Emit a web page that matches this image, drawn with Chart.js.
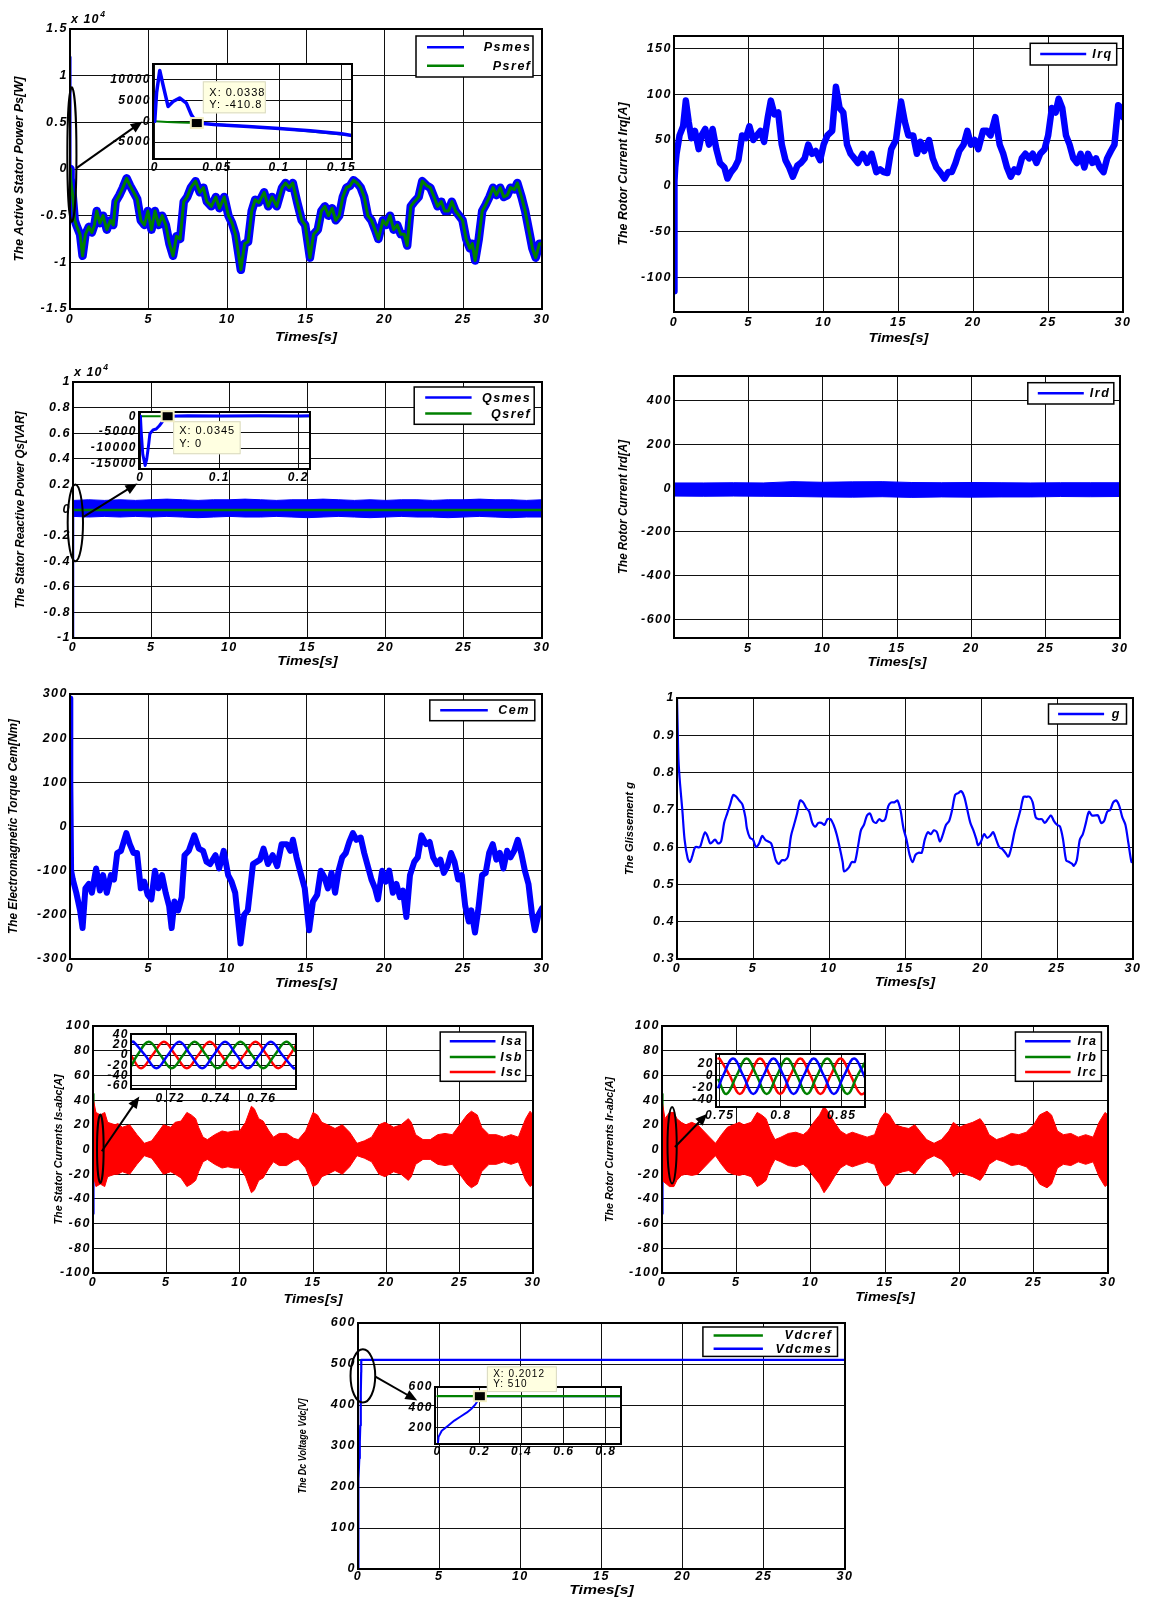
<!DOCTYPE html>
<html lang="en">
<head>
<meta charset="UTF-8">
<title>DFIG simulation results</title>
<script src="https://cdn.jsdelivr.net/npm/chart.js"></script>
<style>
  html, body { margin: 0; padding: 0; background: #fff; }
  #page { position: relative; width: 1157px; height: 1599px; overflow: hidden; background: #fff; }
  canvas { position: absolute; }
</style>
</head>
<body>
<div id="page"></div>
<script>
// ---------- values ----------
const xTicks = [0, 5, 10, 15, 20, 25, 30];

// active stator power (x10^4 W)
const psTicks = [-1.5, -1, -0.5, 0, 0.5, 1, 1.5];
const tPs = [0, 0.02, 0.05, 0.18, 0.3, 0.4, 0.64, 0.8, 0.98, 1.2,
  1.39, 1.55, 1.7, 1.9, 2.1, 2.34, 2.57, 2.75, 2.9, 3.14,
  3.36, 3.6, 3.82, 4.05, 4.27, 4.5, 4.73, 4.95, 5.18, 5.4,
  5.64, 5.86, 6.09, 6.32, 6.55, 6.77, 7.0, 7.23, 7.45, 7.68,
  7.98, 8.25, 8.48, 8.7, 8.98, 9.27, 9.5, 9.8, 10.07, 10.3,
  10.52, 10.86, 11.1, 11.32, 11.55, 11.77, 12.0, 12.34, 12.6, 12.84,
  13.14, 13.48, 13.7, 13.93, 14.16, 14.43, 14.73, 14.95, 15.25, 15.48,
  15.75, 15.98, 16.2, 16.43, 16.66, 16.89, 17.11, 17.34, 17.57, 17.8,
  18.02, 18.25, 18.48, 18.7, 18.93, 19.16, 19.39, 19.6, 19.89, 20.1,
  20.34, 20.57, 20.8, 21.02, 21.25, 21.43, 21.66, 21.89, 22.16, 22.39,
  22.68, 22.9, 23.14, 23.36, 23.6, 23.82, 24.05, 24.27, 24.5, 24.73,
  24.95, 25.18, 25.41, 25.57, 25.75, 25.98, 26.2, 26.43, 26.66, 26.89,
  27.1, 27.34, 27.57, 27.8, 28.0, 28.25, 28.43, 28.7, 28.93, 29.16,
  29.39, 29.6, 29.84, 30];
const psRef = [0, -0.05, -0.1, -0.3, -0.55, -0.6, -0.7, -0.93, -0.7, -0.62,
  -0.68, -0.6, -0.45, -0.58, -0.5, -0.65, -0.55, -0.6, -0.35, -0.28,
  -0.2, -0.1, -0.18, -0.25, -0.32, -0.55, -0.6, -0.45, -0.65, -0.45,
  -0.6, -0.5, -0.6, -0.8, -0.93, -0.72, -0.75, -0.35, -0.3, -0.2,
  -0.13, -0.25, -0.2, -0.35, -0.4, -0.3, -0.42, -0.3, -0.5, -0.58,
  -0.7, -1.08, -0.8, -0.78, -0.45, -0.33, -0.36, -0.25, -0.4, -0.3,
  -0.4, -0.2, -0.15, -0.2, -0.15, -0.35, -0.55, -0.6, -0.95, -0.7,
  -0.65, -0.45, -0.4, -0.5, -0.42, -0.55, -0.5, -0.3, -0.2, -0.18,
  -0.12, -0.15, -0.2, -0.3, -0.5, -0.55, -0.65, -0.75, -0.55, -0.6,
  -0.5, -0.65, -0.6, -0.7, -0.7, -0.82, -0.4, -0.35, -0.3, -0.13,
  -0.18, -0.2, -0.3, -0.4, -0.35, -0.45, -0.45, -0.35, -0.45, -0.5,
  -0.55, -0.75, -0.85, -0.8, -0.98, -0.75, -0.45, -0.38, -0.3, -0.2,
  -0.28, -0.2, -0.3, -0.28, -0.2, -0.22, -0.15, -0.3, -0.45, -0.65,
  -0.85, -0.95, -0.8, -0.8];
const tPsSpike = [0, 0.02, 0.05];
const psSpike = [0, 1.2, -0.1];
// zoom on Ps (W)
const psInX = [0, 0.05, 0.1, 0.15];
const psInY = [-5000, 0, 5000, 10000];
const tPsIn = [0, 0.0015, 0.004, 0.0065, 0.0107, 0.0147, 0.02, 0.0254, 0.0294, 0.0338, 0.05, 0.075, 0.1, 0.125, 0.15, 0.1585];
const psInMes = [0, 7000, 12300, 9000, 3600, 4800, 5650, 4400, 1600, -410.8, -800, -1250, -1750, -2300, -3000, -3400];
const tPsInRef = [0, 0.01, 0.02, 0.0338, 0.1, 0.1585];
const psInRef = [0, -150, -300, -410.8, -1750, -3400];

// rotor current Irq (A)
const irqTicks = [-100, -50, 0, 50, 100, 150];
const tIrq = [0, 0.03, 0.08, 0.17, 0.37, 0.61, 0.79, 0.98, 1.16, 1.4,
  1.65, 1.84, 2.09, 2.34, 2.58, 2.83, 3.07, 3.37, 3.57, 3.81,
  4.06, 4.3, 4.55, 4.8, 5.04, 5.29, 5.53, 5.78, 6.02, 6.27,
  6.47, 6.71, 6.96, 7.2, 7.45, 7.7, 7.94, 8.24, 8.48, 8.73,
  8.97, 9.22, 9.47, 9.76, 10.0, 10.25, 10.57, 10.82, 11.06, 11.31,
  11.56, 11.8, 12.05, 12.29, 12.61, 12.91, 13.2, 13.52, 13.77, 14.01,
  14.26, 14.51, 14.83, 15.17, 15.42, 15.66, 15.98, 16.23, 16.47, 16.72,
  17.04, 17.29, 17.53, 17.78, 18.07, 18.32, 18.56, 18.81, 19.06, 19.35,
  19.6, 19.84, 20.09, 20.33, 20.65, 20.9, 21.15, 21.47, 21.76, 22.0,
  22.25, 22.5, 22.74, 22.99, 23.24, 23.48, 23.73, 23.97, 24.22, 24.47,
  24.76, 25.0, 25.25, 25.5, 25.7, 25.94, 26.19, 26.43, 26.68, 26.92,
  27.17, 27.42, 27.66, 27.96, 28.2, 28.45, 28.7, 28.94, 29.19, 29.43,
  29.68, 29.88, 30];
const irq = [-115, 5, 20, 35, 55, 65, 93, 70, 52, 60,
  40, 55, 62, 45, 62, 40, 25, 20, 8, 15,
  20, 28, 55, 52, 65, 50, 55, 60, 48, 75,
  93, 78, 80, 45, 28, 20, 10, 22, 25, 30,
  45, 35, 38, 28, 45, 55, 60, 108, 85, 80,
  45, 35, 30, 25, 35, 25, 35, 15, 18, 15,
  14, 40, 50, 92, 70, 55, 55, 35, 48, 38,
  50, 30, 20, 15, 8, 15, 15, 25, 38, 45,
  60, 45, 50, 40, 60, 60, 55, 75, 45, 35,
  20, 10, 18, 15, 30, 35, 30, 35, 25, 35,
  40, 55, 85, 80, 95, 85, 55, 45, 30, 25,
  35, 20, 35, 25, 30, 20, 15, 30, 38, 45,
  88, 85, 75];

// stator reactive power (x10^4 VAR), band edges
const qsTicks = [-1, -0.8, -0.6, -0.4, -0.2, 0, 0.2, 0.4, 0.6, 0.8, 1];
const tQs = [0.03, 1, 2, 3, 4, 5, 6, 7, 8, 9, 10, 11, 12, 13, 14, 15, 16, 17, 18, 19, 20, 21, 22, 23, 24, 25, 26, 27, 28, 29, 30];
const qsUp = [0.075, 0.08, 0.075, 0.08, 0.075, 0.08, 0.085, 0.08, 0.075, 0.08, 0.08, 0.085, 0.08, 0.075, 0.08, 0.08, 0.085, 0.08, 0.075, 0.08, 0.075, 0.08, 0.08, 0.075, 0.08, 0.08, 0.085, 0.08, 0.08, 0.075, 0.08];
const qsLo = [-0.05, -0.055, -0.05, -0.055, -0.05, -0.055, -0.05, -0.055, -0.06, -0.055, -0.05, -0.055, -0.055, -0.05, -0.055, -0.06, -0.055, -0.05, -0.055, -0.06, -0.055, -0.05, -0.055, -0.055, -0.06, -0.055, -0.05, -0.055, -0.06, -0.055, -0.055];
const tQsRef = [0, 30];
const qsRef = [0, 0];
const tQsStart = [0, 0.006, 0.012, 0.03];
const qsStart = [0, -1.55, -0.55, 0];
// zoom on Qs (VAR)
const qsInX = [0, 0.1, 0.2];
const qsInY = [-15000, -10000, -5000, 0];
const tQsIn = [0, 0.001, 0.003, 0.006, 0.008, 0.0104, 0.012, 0.016, 0.02, 0.024, 0.027, 0.03, 0.0345, 0.06, 0.1, 0.15, 0.2, 0.215];
const qsIn = [0, -5000, -12000, -15500, -13500, -9000, -5500, -4300, -4000, -3000, -2000, -800, 0, 120, 60, 120, 60, 120];
const tQsInRef = [0, 0.215];
const qsInRef = [0, 0];

// rotor current Ird (A), band edges
const irdTicks = [-600, -400, -200, 0, 200, 400];
const tIrd = [0, 2, 4, 6, 8, 10, 12, 14, 16, 18, 20, 22, 24, 26, 28, 30];
const irdUp = [24, 24, 25, 24, 30, 27, 29, 30, 26, 25, 26, 25, 24, 25, 25, 25];
const irdLo = [-36, -37, -36, -37, -38, -40, -41, -39, -42, -40, -41, -40, -40, -38, -39, -38];

// electromagnetic torque (N.m)
const cemTicks = [-300, -200, -100, 0, 100, 200, 300];
const tCem = [0, 0.02, 0.07, 0.18, 0.4, 0.64, 0.8, 0.98, 1.2, 1.39,
  1.66, 1.9, 2.1, 2.34, 2.6, 2.8, 3.0, 3.24, 3.58, 3.8,
  4.04, 4.26, 4.5, 4.72, 4.94, 5.17, 5.4, 5.62, 5.85, 6.08,
  6.3, 6.46, 6.64, 6.87, 7.1, 7.28, 7.55, 7.9, 8.19, 8.46,
  8.68, 8.9, 9.25, 9.48, 9.77, 10.05, 10.27, 10.5, 10.84, 11.07,
  11.3, 11.63, 11.86, 12.08, 12.3, 12.58, 12.88, 13.17, 13.45, 13.79,
  14.01, 14.17, 14.4, 14.69, 14.92, 15.2, 15.44, 15.71, 15.94, 16.17,
  16.39, 16.62, 16.85, 17.07, 17.3, 17.53, 17.75, 17.98, 18.2, 18.48,
  18.7, 18.93, 19.16, 19.39, 19.57, 19.84, 20.07, 20.29, 20.52, 20.75,
  20.97, 21.16, 21.38, 21.61, 21.88, 22.1, 22.34, 22.63, 22.86, 23.08,
  23.31, 23.54, 23.76, 23.99, 24.22, 24.44, 24.67, 24.9, 25.12, 25.35,
  25.51, 25.74, 25.96, 26.19, 26.42, 26.64, 26.87, 27.1, 27.32, 27.55,
  27.78, 28.0, 28.23, 28.46, 28.68, 28.91, 29.14, 29.37, 29.55, 29.77,
  30];
const cem = [290, 100, -100, -120, -150, -190, -230, -140, -130, -150,
  -95, -145, -110, -150, -110, -120, -60, -55, -15, -40,
  -60, -60, -140, -125, -155, -165, -100, -140, -110, -150,
  -180, -230, -170, -190, -160, -65, -55, -20, -50, -55,
  -80, -85, -65, -95, -55, -110, -125, -150, -265, -200,
  -190, -85, -80, -75, -50, -85, -65, -90, -40, -40,
  -55, -30, -70, -110, -140, -235, -170, -155, -100, -115,
  -140, -105, -150, -100, -70, -60, -35, -15, -30, -25,
  -60, -90, -120, -140, -165, -100, -125, -100, -150, -130,
  -160, -145, -205, -110, -80, -70, -20, -40, -35, -70,
  -85, -75, -105, -90, -60, -80, -120, -110, -180, -215,
  -190, -240, -185, -110, -105, -60, -40, -75, -60, -95,
  -55, -70, -55, -30, -60, -100, -130, -200, -235, -200,
  -185];

// slip g
const gTicks = [0.3, 0.4, 0.5, 0.6, 0.7, 0.8, 0.9, 1];
const tG = [0, 0.05, 0.1, 0.2, 0.35, 0.5, 0.7, 0.85, 1.0, 1.2,
  1.5, 1.7, 1.85, 2.0, 2.2, 2.5, 2.7, 2.9, 3.1, 3.3,
  3.5, 3.7, 3.9, 4.1, 4.3, 4.5, 4.6, 4.8, 5.0, 5.2,
  5.4, 5.6, 5.8, 6.0, 6.2, 6.4, 6.5, 6.7, 6.9, 7.1,
  7.3, 7.5, 7.7, 7.9, 8.1, 8.3, 8.5, 8.7, 8.9, 9.1,
  9.3, 9.5, 9.7, 9.9, 10.1, 10.3, 10.5, 10.7, 10.9, 11.0,
  11.3, 11.5, 11.7, 11.9, 12.1, 12.3, 12.5, 12.7, 12.9, 13.1,
  13.3, 13.5, 13.7, 13.9, 14.1, 14.3, 14.5, 14.7, 14.9, 15.1,
  15.3, 15.5, 15.7, 15.9, 16.1, 16.3, 16.5, 16.7, 16.9, 17.1,
  17.3, 17.5, 17.7, 17.9, 18.1, 18.3, 18.5, 18.7, 18.9, 19.1,
  19.3, 19.5, 19.7, 19.8, 20.0, 20.2, 20.4, 20.6, 20.8, 21.0,
  21.2, 21.4, 21.6, 21.8, 22.0, 22.2, 22.4, 22.6, 22.8, 23.0,
  23.2, 23.4, 23.6, 23.8, 24.0, 24.2, 24.4, 24.6, 24.8, 25.0,
  25.2, 25.4, 25.6, 25.8, 26.0, 26.1, 26.3, 26.5, 26.7, 26.9,
  27.1, 27.3, 27.5, 27.7, 27.9, 28.1, 28.3, 28.5, 28.7, 28.9,
  29.1, 29.3, 29.5, 29.7, 29.9, 30];
const gVals = [1.0, 0.91, 0.83, 0.77, 0.7, 0.62, 0.57, 0.56, 0.575, 0.6,
  0.6, 0.625, 0.64, 0.63, 0.61, 0.62, 0.61, 0.615, 0.665, 0.69,
  0.715, 0.74, 0.735, 0.725, 0.715, 0.68, 0.65, 0.625, 0.62, 0.6,
  0.61, 0.63, 0.62, 0.615, 0.61, 0.58, 0.565, 0.555, 0.565, 0.565,
  0.575, 0.63, 0.66, 0.69, 0.725, 0.72, 0.705, 0.695, 0.665, 0.655,
  0.665, 0.665, 0.66, 0.675, 0.675, 0.66, 0.635, 0.6, 0.56, 0.535,
  0.545, 0.56, 0.56, 0.6, 0.645, 0.66, 0.685, 0.69, 0.67, 0.665,
  0.675, 0.67, 0.675, 0.71, 0.72, 0.72, 0.725, 0.7, 0.65, 0.62,
  0.58, 0.56, 0.58, 0.585, 0.585, 0.62, 0.64, 0.635, 0.645, 0.64,
  0.615, 0.635, 0.66, 0.67, 0.7, 0.74, 0.745, 0.75, 0.735, 0.7,
  0.665, 0.645, 0.62, 0.605, 0.615, 0.635, 0.625, 0.63, 0.64, 0.62,
  0.6, 0.595, 0.585, 0.575, 0.6, 0.64, 0.67, 0.7, 0.735, 0.735,
  0.735, 0.72, 0.68, 0.675, 0.675, 0.665, 0.675, 0.685, 0.67, 0.66,
  0.655, 0.62, 0.565, 0.56, 0.555, 0.55, 0.565, 0.62, 0.635, 0.665,
  0.695, 0.685, 0.685, 0.685, 0.665, 0.67, 0.695, 0.7, 0.72, 0.725,
  0.71, 0.68, 0.66, 0.61, 0.56, 0.56];

// stator currents (A): envelope of the three-phase band
const iTicks = [-100, -80, -60, -40, -20, 0, 20, 40, 60, 80, 100];
const tIs = [0, 0.2, 0.5, 0.8, 1.0, 1.5, 1.7, 2.0, 2.5, 3.0,
  3.5, 4.0, 4.5, 4.8, 5.3, 5.6, 6.0, 6.4, 6.7, 7.0,
  7.2, 7.5, 7.8, 8.3, 8.8, 9.2, 9.6, 10.0, 10.4, 10.8,
  11.0, 11.3, 11.6, 12.0, 12.3, 12.7, 13.2, 13.7, 14.0, 14.5,
  15.0, 15.3, 15.6, 16.0, 16.5, 17.0, 17.5, 18.0, 18.5, 19.0,
  19.5, 19.9, 20.5, 21.0, 21.5, 21.7, 22.0, 22.5, 23.0, 23.5,
  24.0, 24.5, 25.0, 25.5, 25.8, 26.2, 26.5, 27.0, 27.5, 28.0,
  28.5, 29.0, 29.5, 29.8, 30];
const isUp = [42, 30, 28, 30, 22, 20, 21, 18, 20, 12,
  5, 7, 15, 20, 18, 22, 23, 30, 28, 25,
  18, 10, 8, 12, 15, 14, 15, 15, 22, 35,
  33, 25, 23, 15, 10, 13, 13, 9, 8, 15,
  30, 28, 22, 20, 17, 20, 14, 5, 7, 10,
  20, 22, 18, 20, 25, 22, 12, 8, 8, 12,
  13, 12, 20, 28, 31, 28, 18, 12, 12, 10,
  12, 10, 25, 31, 28];
const isLo = [-20, -30, -28, -30, -22, -20, -20, -18, -20, -12,
  -5, -7, -15, -20, -18, -20, -23, -30, -28, -25,
  -18, -10, -8, -12, -15, -14, -15, -15, -22, -35,
  -33, -25, -23, -15, -10, -13, -13, -9, -8, -15,
  -30, -28, -22, -20, -17, -20, -14, -5, -7, -10,
  -20, -22, -18, -20, -25, -22, -12, -8, -8, -12,
  -13, -12, -20, -28, -31, -28, -18, -12, -12, -10,
  -12, -10, -25, -30, -28];
const tStart = [0, 0.02, 0.06];
const isaStart = [0, -52, -20];
const isbStart = [0, 45, 20];
// zoom on the stator currents
const isInX = [0.72, 0.74, 0.76];
const isInY = [-60, -40, -20, 0, 20, 40];
const tIsa = [0.703, 0.704, 0.709, 0.714, 0.719, 0.724, 0.729, 0.734, 0.739, 0.744, 0.749, 0.754, 0.759, 0.764, 0.769, 0.774, 0.775];
const isa = [25, 26, 0, -26, 0, 26, 0, -26, 0, 26, 0, -26, 0, 26, 0, -26, -25];
const tIsb = [0.703, 0.7057, 0.7107, 0.7157, 0.7207, 0.7257, 0.7307, 0.7357, 0.7407, 0.7457, 0.7507, 0.7557, 0.7607, 0.7657, 0.7707, 0.775];
const isb = [-22, 0, 26, 0, -26, 0, 26, 0, -26, 0, 26, 0, -26, 0, 26, 6];
const tIsc = [0.703, 0.7073, 0.7123, 0.7173, 0.7223, 0.7273, 0.7323, 0.7373, 0.7423, 0.7473, 0.7523, 0.7573, 0.7623, 0.7673, 0.7723, 0.775];
const isc = [-2, -26, 0, 26, 0, -26, 0, 26, 0, -26, 0, 26, 0, -26, 0, 19];

// rotor currents (A): envelope of the three-phase band
const tIr = [0, 0.2, 0.5, 0.8, 1.0, 1.3, 1.6, 2.0, 2.4, 2.8,
  3.2, 3.6, 4.0, 4.4, 4.8, 5.2, 5.5, 6.0, 6.4, 6.7,
  7.0, 7.3, 7.6, 8.0, 8.5, 9.0, 9.5, 9.8, 10.2, 10.6,
  10.9, 11.2, 11.6, 12.0, 12.4, 12.8, 13.3, 13.8, 14.3, 14.7,
  15.0, 15.3, 15.7, 16.2, 16.6, 17.0, 17.4, 17.8, 18.3, 18.8,
  19.3, 19.6, 20.0, 20.4, 20.9, 21.4, 21.7, 22.0, 22.5, 23.0,
  23.5, 24.0, 24.5, 25.0, 25.4, 25.9, 26.2, 26.6, 27.0, 27.5,
  28.0, 28.5, 29.0, 29.4, 29.8, 30];
const irUp = [40, 25, 30, 30, 25, 22, 20, 22, 20, 15,
  10, 5, 12, 18, 20, 22, 20, 22, 30, 28,
  25, 15, 8, 10, 13, 14, 12, 15, 22, 28,
  35, 30, 22, 15, 12, 14, 12, 10, 12, 25,
  30, 28, 20, 18, 17, 20, 14, 8, 5, 8,
  15, 22, 18, 20, 22, 25, 20, 12, 8, 10,
  13, 12, 14, 20, 28, 31, 28, 15, 12, 13,
  10, 12, 10, 22, 30, 28];
const irLo = [-25, -27, -30, -30, -25, -21, -20, -21, -20, -15,
  -10, -5, -12, -18, -20, -21, -20, -22, -30, -28,
  -25, -15, -8, -10, -13, -14, -12, -15, -22, -28,
  -35, -30, -22, -15, -12, -14, -12, -10, -12, -25,
  -30, -28, -20, -18, -17, -20, -14, -8, -5, -8,
  -15, -22, -18, -20, -22, -25, -20, -12, -8, -10,
  -13, -12, -14, -20, -28, -31, -28, -15, -12, -13,
  -10, -12, -10, -22, -30, -28];
const iraStart = [0, -52, -20];
const irbStart = [0, 45, 20];
// zoom on the rotor currents
const irInX = [0.75, 0.8, 0.85];
const irInY = [-40, -20, 0, 20];
const tIra = [0.749, 0.7528, 0.761, 0.7693, 0.7775, 0.7858, 0.794, 0.8023, 0.8105, 0.8188, 0.827, 0.8353, 0.8435, 0.8518, 0.86, 0.8683, 0.872];
const ira = [-19, 0, 28, 0, -30, 0, 28, 0, -30, 0, 28, 0, -30, 0, 28, 0, -19];
const tIrb = [0.749, 0.7555, 0.7638, 0.772, 0.7803, 0.7885, 0.7968, 0.805, 0.8133, 0.8215, 0.8298, 0.838, 0.8463, 0.8545, 0.8628, 0.871, 0.872];
const irb = [-7, -30, 0, 28, 0, -30, 0, 28, 0, -30, 0, 28, 0, -30, 0, 28, 28];
const tIrc = [0.749, 0.75, 0.7583, 0.7665, 0.7748, 0.783, 0.7913, 0.7995, 0.8078, 0.816, 0.8243, 0.8325, 0.8408, 0.849, 0.8573, 0.8655, 0.872];
const irc = [28, 28, 0, -30, 0, 28, 0, -30, 0, 28, 0, -30, 0, 28, 0, -30, -22];

// DC bus voltage (V)
const vdcTicks = [0, 100, 200, 300, 400, 500, 600];
const tVdc = [0, 0.005, 0.02, 0.05, 0.08, 0.11, 0.14, 0.16, 0.18, 0.196, 0.2012, 0.5, 30];
const vdcMes = [0, 110, 170, 220, 270, 310, 350, 384, 430, 480, 510, 510, 510];
const tVdcRef = [0, 30];
const vdcRef = [510, 510];
const vdcInX = [0, 0.2, 0.4, 0.6, 0.8];
const vdcInY = [200, 400, 600];
const tVdcIn = [0, 0.005, 0.02, 0.05, 0.08, 0.11, 0.14, 0.16, 0.18, 0.196, 0.2012, 0.5, 0.872];
const tVdcInRef = [0, 0.872];

// ---------- drawing ----------
const FONT = '"Liberation Sans", Arial, Helvetica, sans-serif';
const BLUE = '#0000ff', GREEN = '#008000', RED = '#ff0000';
const page = document.getElementById('page');

function fitText(ctx, text, cx, cy, len, size, rotate) {
  ctx.save();
  ctx.letterSpacing = '0px';
  ctx.font = 'italic bold ' + size + 'px ' + FONT;
  const w = ctx.measureText(text).width;
  ctx.translate(cx, cy);
  if (rotate) ctx.rotate(-Math.PI / 2);
  ctx.scale(len / w, 1);
  ctx.fillStyle = '#000';
  ctx.textAlign = 'center';
  ctx.textBaseline = 'middle';
  ctx.fillText(text, 0, 0);
  ctx.restore();
}

function arrow(ctx, x1, y1, x2, y2) {
  const an = Math.atan2(y2 - y1, x2 - x1), c = Math.cos(an), s = Math.sin(an);
  const hl = 12, hw = 5;
  ctx.beginPath();
  ctx.moveTo(x1, y1);
  ctx.lineTo(x2 - hl * 0.8 * c, y2 - hl * 0.8 * s);
  ctx.stroke();
  ctx.beginPath();
  ctx.moveTo(x2, y2);
  ctx.lineTo(x2 - hl * c + hw * s, y2 - hl * s - hw * c);
  ctx.lineTo(x2 - hl * c - hw * s, y2 - hl * s + hw * c);
  ctx.closePath();
  ctx.fill();
}

const decoPlugin = {
  id: 'deco',
  beforeUpdate(chart) { chart.ctx.letterSpacing = '1.5px'; },
  beforeDraw(chart) {
    const ctx = chart.ctx, a = chart.chartArea, d = chart.canvas.deco;
    ctx.letterSpacing = '1.5px';
    if (d.bg) {
      ctx.save();
      ctx.fillStyle = '#fff';
      ctx.fillRect(a.left, a.top, a.right - a.left, a.bottom - a.top);
      ctx.restore();
    }
  },
  afterDraw(chart) {
    const ctx = chart.ctx, a = chart.chartArea, d = chart.canvas.deco;
    const xs = chart.scales.x, ys = chart.scales.y;
    ctx.save();
    ctx.strokeStyle = '#000';
    ctx.fillStyle = '#000';
    ctx.lineWidth = 2;
    ctx.strokeRect(a.left, a.top, a.right - a.left, a.bottom - a.top);

    if (d.ellipse) {
      const e = d.ellipse;
      const cx = xs.getPixelForValue(e.x), cy = ys.getPixelForValue(e.y);
      const rx = Math.abs(xs.getPixelForValue(e.x + e.rx) - cx);
      const ry = Math.abs(ys.getPixelForValue(e.y + e.ry) - cy);
      ctx.beginPath();
      ctx.ellipse(cx, cy, rx, ry, 0, 0, Math.PI * 2);
      ctx.stroke();
    }
    if (d.arrow) {
      const r = d.arrow;
      arrow(ctx, xs.getPixelForValue(r.x1), ys.getPixelForValue(r.y1),
                 xs.getPixelForValue(r.x2), ys.getPixelForValue(r.y2));
    }
    if (d.legend) {
      const g = d.legend, bx = a.right - g.right - g.w, by = a.top + g.top;
      ctx.fillStyle = '#fff';
      ctx.fillRect(bx, by, g.w, g.h);
      ctx.lineWidth = 1.5;
      ctx.strokeStyle = '#000';
      ctx.strokeRect(bx, by, g.w, g.h);
      ctx.font = 'italic bold 12.5px ' + FONT;
      ctx.letterSpacing = '1.5px';
      ctx.textAlign = 'right';
      ctx.textBaseline = 'middle';
      g.items.forEach((it, i) => {
        const y = by + g.rows[i];
        ctx.strokeStyle = it[1];
        ctx.lineWidth = 2.5;
        ctx.beginPath();
        ctx.moveTo(bx + g.x1, y);
        ctx.lineTo(bx + g.x2, y);
        ctx.stroke();
        ctx.fillStyle = '#000';
        ctx.fillText(it[0], bx + g.w - g.tr, y + 0.5);
      });
    }
    if (d.yTitle) {
      fitText(ctx, d.yTitle.text, a.left - d.yTitle.off, (a.top + a.bottom) / 2, d.yTitle.len, d.yTitle.size, true);
    }
    if (d.xTitle) {
      fitText(ctx, 'Times[s]', (a.left + a.right) / 2, a.bottom + d.xTitle.off, d.xTitle.len, 12.5, false);
    }
    if (d.exp) {
      ctx.fillStyle = '#000';
      ctx.textAlign = 'left';
      ctx.textBaseline = 'alphabetic';
      ctx.letterSpacing = '1px';
      ctx.font = 'italic bold 12.5px ' + FONT;
      ctx.fillText('x 10', a.left + 1, a.top - 6);
      const w = ctx.measureText('x 10').width;
      ctx.font = 'italic bold 8.5px ' + FONT;
      ctx.fillText('4', a.left + 2 + w, a.top - 12);
    }
    if (d.tip) {
      const t = d.tip;
      const px = xs.getPixelForValue(t.x), py = ys.getPixelForValue(t.y);
      const bx = px + t.dx, by = py + t.dy;
      ctx.fillStyle = '#ffffe1';
      ctx.fillRect(bx, by, t.w, t.h);
      ctx.strokeStyle = '#d8d8c0';
      ctx.lineWidth = 1;
      ctx.strokeRect(bx + 0.5, by + 0.5, t.w - 1, t.h - 1);
      ctx.fillStyle = '#000';
      ctx.font = t.size + 'px ' + FONT;
      ctx.letterSpacing = '1px';
      ctx.textAlign = 'left';
      ctx.textBaseline = 'middle';
      t.lines.forEach((s, i) => ctx.fillText(s, bx + t.tx, by + t.ty[i]));
      ctx.fillStyle = '#f3eec2';
      ctx.fillRect(px - 7, py - 6, 14, 12);
      ctx.fillStyle = '#000';
      ctx.fillRect(px - 5, py - 4, 10, 8);
    }
    ctx.restore();
  }
};

const xy = (ts, vs) => ts.map((t, i) => ({x: t, y: vs[i]}));
const ln = (ts, vs, color, w, more) => Object.assign({
  data: xy(ts, vs), borderColor: color, backgroundColor: color, borderWidth: w,
  pointRadius: 0, tension: 0, fill: false, borderJoinStyle: 'round', borderCapStyle: 'round'
}, more || {});

// note: Chart.js paints dataset 0 last, so the first dataset listed ends up on top
function plot(c) {
  const [L, T, R, B] = c.box, m = c.m;
  const cv = document.createElement('canvas');
  const W = R - L + m.l + m.r, H = B - T + m.t + m.b;
  cv.width = W; cv.height = H;
  cv.style.left = (L - m.l) + 'px';
  cv.style.top = (T - m.t) + 'px';
  cv.style.width = W + 'px';
  cv.style.height = H + 'px';
  cv.style.zIndex = c.z || 1;
  page.appendChild(cv);
  cv.deco = c.deco || {};
  const fs = c.fs || 12.5;
  const axis = (ax, horiz, pad) => ({
    type: 'linear', min: ax.min, max: ax.max,
    afterBuildTicks: s => { s.ticks = ax.ticks.map(v => ({value: v})); },
    afterFit: s => { if (horiz) s.height = m.b; else s.width = m.l; },
    grid: {color: '#111', lineWidth: 1, drawTicks: false},
    border: {display: false},
    ticks: {
      color: '#000', padding: pad, autoSkip: false, maxRotation: 0, minRotation: 0,
      font: {family: FONT, size: fs, style: 'italic', weight: 'bold', lineHeight: 1},
      callback: v => (ax.hide || []).includes(v) ? '' : String(v)
    }
  });
  return new Chart(cv, {
    type: 'line',
    data: {datasets: c.datasets},
    options: {
      responsive: false, animation: false, devicePixelRatio: 1, events: [],
      layout: {padding: {left: 0, top: m.t, right: m.r, bottom: 0}},
      plugins: {legend: {display: false}, tooltip: {enabled: false}},
      scales: {x: axis(c.x, true, c.xpad), y: axis(c.y, false, 2)}
    },
    plugins: [decoPlugin]
  });
}

const MM = {l: 75, t: 28, r: 20, b: 45};
const MI = {l: 55, t: 12, r: 22, b: 22};
const X30 = {min: 0, max: 30, ticks: xTicks};

// 1 - active stator power
plot({
  box: [70, 29, 542, 309], m: MM, x: X30, y: {min: -1.5, max: 1.5, ticks: psTicks}, xpad: 4.5,
  datasets: [
    ln(tPs, psRef, GREEN, 3),
    ln(tPsSpike, psSpike, BLUE, 2),
    ln(tPs, psRef, BLUE, 8.5)
  ],
  deco: {
    yTitle: {text: 'The Active Stator Power Ps[W]', off: 50, len: 185, size: 12.5},
    xTitle: {off: 28.5, len: 62}, exp: true,
    ellipse: {x: 0.12, y: 0.156, rx: 0.29, ry: 0.72},
    arrow: {x1: 0.41, y1: 0.01, x2: 4.61, y2: 0.51},
    legend: {w: 117, h: 41, right: 9, top: 7, rows: [11.3, 29.7], x1: 11, x2: 48, tr: 1.5,
      items: [['Psmes', BLUE], ['Psref', GREEN]]}
  }
});
plot({
  box: [153, 64, 352, 159], m: MI, z: 2, fs: 12, x: {min: -0.0014, max: 0.1585, ticks: psInX},
  y: {min: -9100, max: 13860, ticks: psInY}, xpad: 3,
  datasets: [ln(tPsIn, psInMes, BLUE, 3.5), ln(tPsInRef, psInRef, GREEN, 2)],
  deco: {bg: true, tip: {x: 0.0338, y: -410.8, dx: 6, dy: -41.7, w: 63, h: 32, tx: 6.5, ty: [11.6, 24],
    size: 11, lines: ['X: 0.0338', 'Y: -410.8']}}
});

// 2 - rotor current Irq
plot({
  box: [674, 36, 1123, 312], m: MM, x: X30, y: {min: -137.5, max: 163.4, ticks: irqTicks}, xpad: 4.3,
  datasets: [ln(tIrq, irq, BLUE, 6.5)],
  deco: {
    yTitle: {text: 'The Rotor Current Irq[A]', off: 50.5, len: 143, size: 12},
    xTitle: {off: 26.5, len: 60},
    legend: {w: 86.5, h: 21.7, right: 6.3, top: 7.3, rows: [10.8], x1: 10, x2: 56, tr: 4, items: [['Irq', BLUE]]}
  }
});

// 3 - stator reactive power
plot({
  box: [73, 382, 542, 638], m: MM, x: X30, y: {min: -1, max: 1, ticks: qsTicks}, xpad: 2.8,
  datasets: [
    ln(tQsStart, qsStart, BLUE, 2),
    ln(tQsRef, qsRef, GREEN, 2.5),
    ln(tQs, qsUp, BLUE, 1, {fill: '+1'}),
    ln(tQs, qsLo, BLUE, 1)
  ],
  deco: {
    yTitle: {text: 'The Stator Reactive Power Qs[VAR]', off: 52, len: 197, size: 12},
    xTitle: {off: 24, len: 60.5}, exp: true,
    ellipse: {x: 0.15, y: -0.1, rx: 0.49, ry: 0.30},
    arrow: {x1: 0.69, y1: -0.052, x2: 4.12, y2: 0.208},
    legend: {w: 120, h: 37.3, right: 7.8, top: 5, rows: [10.6, 26.6], x1: 11, x2: 57.4, tr: 3,
      items: [['Qsmes', BLUE], ['Qsref', GREEN]]}
  }
});
plot({
  box: [139, 412, 310, 469], m: MI, z: 2, fs: 12, x: {min: -0.0018, max: 0.2149, ticks: qsInX},
  y: {min: -16600, max: 1330, ticks: qsInY}, xpad: 3,
  datasets: [ln(tQsIn, qsIn, BLUE, 3), ln(tQsInRef, qsInRef, GREEN, 2)],
  deco: {bg: true, tip: {x: 0.0345, y: 0, dx: 5.5, dy: 5, w: 67.5, h: 33, tx: 6, ty: [10, 22.3],
    size: 11, lines: ['X: 0.0345', 'Y: 0']}}
});

// 4 - rotor current Ird
plot({
  box: [674, 376, 1120, 638], m: MM, x: {min: 0, max: 30, ticks: xTicks, hide: [0]},
  y: {min: -685, max: 513, ticks: irdTicks}, xpad: 3.8,
  datasets: [ln(tIrd, irdUp, BLUE, 1, {fill: '+1'}), ln(tIrd, irdLo, BLUE, 1)],
  deco: {
    yTitle: {text: 'The Rotor Current Ird[A]', off: 50.5, len: 134, size: 12},
    xTitle: {off: 25, len: 59},
    legend: {w: 86, h: 21.3, right: 6.2, top: 6.7, rows: [10.6], x1: 10, x2: 56, tr: 3.5, items: [['Ird', BLUE]]}
  }
});

// 5 - electromagnetic torque
plot({
  box: [70, 694, 542, 959], m: MM, x: X30, y: {min: -300, max: 300, ticks: cemTicks}, xpad: 3.4,
  datasets: [ln(tCem, cem, BLUE, 6)],
  deco: {
    yTitle: {text: 'The Electromagnetic Torque Cem[Nm]', off: 56, len: 215, size: 12.5},
    xTitle: {off: 24.5, len: 62},
    legend: {w: 105, h: 20.7, right: 7.2, top: 6, rows: [10.3], x1: 10.4, x2: 58, tr: 5, items: [['Cem', BLUE]]}
  }
});

// 6 - slip
plot({
  box: [677, 698, 1133, 959], m: MM, x: X30, y: {min: 0.3, max: 1, ticks: gTicks}, xpad: 2.8,
  datasets: [ln(tG, gVals, BLUE, 2.2, {tension: 0.3})],
  deco: {
    yTitle: {text: 'The Glissement g', off: 47, len: 93, size: 11.5},
    xTitle: {off: 24, len: 60.5},
    legend: {w: 78, h: 20, right: 6.5, top: 6, rows: [10], x1: 9.6, x2: 55.6, tr: 5.5, items: [['g', BLUE]]}
  }
});

// 7 - stator currents
plot({
  box: [93, 1026, 533, 1273], m: MM, x: X30, y: {min: -100, max: 100, ticks: iTicks}, xpad: 3,
  datasets: [
    ln(tIs, isUp, RED, 1, {fill: '+1'}),
    ln(tIs, isLo, RED, 1),
    ln(tStart, isaStart, BLUE, 2),
    ln(tStart, isbStart, GREEN, 2)
  ],
  deco: {
    yTitle: {text: 'The Stator Currents Is-abc[A]', off: 34, len: 150, size: 11},
    xTitle: {off: 27, len: 59},
    ellipse: {x: 0.5, y: 0.6, rx: 0.225, ry: 27.7},
    arrow: {x1: 0.6, y1: -1.4, x2: 3.16, y2: 43},
    legend: {w: 85.6, h: 49.3, right: 7.2, top: 6, rows: [9.3, 25, 40], x1: 9.6, x2: 55.3, tr: 3,
      items: [['Isa', BLUE], ['Isb', GREEN], ['Isc', RED]]}
  }
});
plot({
  box: [131, 1034, 296, 1089], m: MI, z: 2, fs: 12, x: {min: 0.7029, max: 0.775, ticks: isInX},
  y: {min: -66.7, max: 41.2, ticks: isInY}, xpad: 4,
  datasets: [
    ln(tIsa, isa, BLUE, 2.5, {tension: 0.4}),
    ln(tIsb, isb, GREEN, 2.5, {tension: 0.4}),
    ln(tIsc, isc, RED, 2.5, {tension: 0.4})
  ],
  deco: {bg: true}
});

// 8 - rotor currents
plot({
  box: [662, 1026, 1108, 1273], m: MM, x: X30, y: {min: -100, max: 100, ticks: iTicks}, xpad: 3,
  datasets: [
    ln(tIr, irUp, RED, 1, {fill: '+1'}),
    ln(tIr, irLo, RED, 1),
    ln(tStart, iraStart, BLUE, 2),
    ln(tStart, irbStart, GREEN, 2)
  ],
  deco: {
    yTitle: {text: 'The Rotor Currents Ir-abc[A]', off: 52.5, len: 145, size: 11},
    xTitle: {off: 24.3, len: 59.5},
    ellipse: {x: 0.68, y: 3.5, rx: 0.31, ry: 31},
    arrow: {x1: 0.87, y1: 2, x2: 3.05, y2: 29},
    legend: {w: 86, h: 49.3, right: 6.6, top: 6, rows: [9.3, 25, 40], x1: 9.7, x2: 55.2, tr: 4,
      items: [['Ira', BLUE], ['Irb', GREEN], ['Irc', RED]]}
  }
});
plot({
  box: [716, 1054, 865, 1107], m: MI, z: 2, fs: 12, x: {min: 0.747, max: 0.869, ticks: irInX},
  y: {min: -51.3, max: 35.5, ticks: irInY}, xpad: 3,
  datasets: [
    ln(tIra, ira, BLUE, 2.5, {tension: 0.4}),
    ln(tIrb, irb, GREEN, 2.5, {tension: 0.4}),
    ln(tIrc, irc, RED, 2.5, {tension: 0.4})
  ],
  deco: {bg: true}
});

// 9 - DC bus voltage
plot({
  box: [358, 1323, 845, 1569], m: MM, x: X30, y: {min: 0, max: 600, ticks: vdcTicks}, xpad: 1.2,
  datasets: [ln(tVdc, vdcMes, BLUE, 2.2), ln(tVdcRef, vdcRef, GREEN, 2)],
  deco: {
    yTitle: {text: 'The Dc Voltage Vdc[V]', off: 55, len: 95, size: 10},
    xTitle: {off: 21.7, len: 64.5},
    ellipse: {x: 0.3, y: 471, rx: 0.76, ry: 65},
    arrow: {x1: 1.07, y1: 469, x2: 3.65, y2: 411},
    legend: {w: 134.6, h: 29.4, right: 7.5, top: 4, rows: [8.4, 21.7], x1: 10.7, x2: 60, tr: 5,
      items: [['Vdcref', GREEN], ['Vdcmes', BLUE]]}
  }
});
plot({
  box: [435, 1387, 621, 1444], m: {l: 55, t: 28, r: 22, b: 22}, z: 2, fs: 12,
  x: {min: -0.012, max: 0.872, ticks: vdcInX}, y: {min: 40, max: 600, ticks: vdcInY}, xpad: 1.5,
  datasets: [ln(tVdcInRef, vdcRef, GREEN, 2.2), ln(tVdcIn, vdcMes, BLUE, 2)],
  deco: {bg: true, tip: {x: 0.2012, y: 510, dx: 7, dy: -29.8, w: 70, h: 25.7, tx: 6.3, ty: [7.6, 17.6],
    size: 10, lines: ['X: 0.2012', 'Y: 510']}}
});
</script>
</body>
</html>
